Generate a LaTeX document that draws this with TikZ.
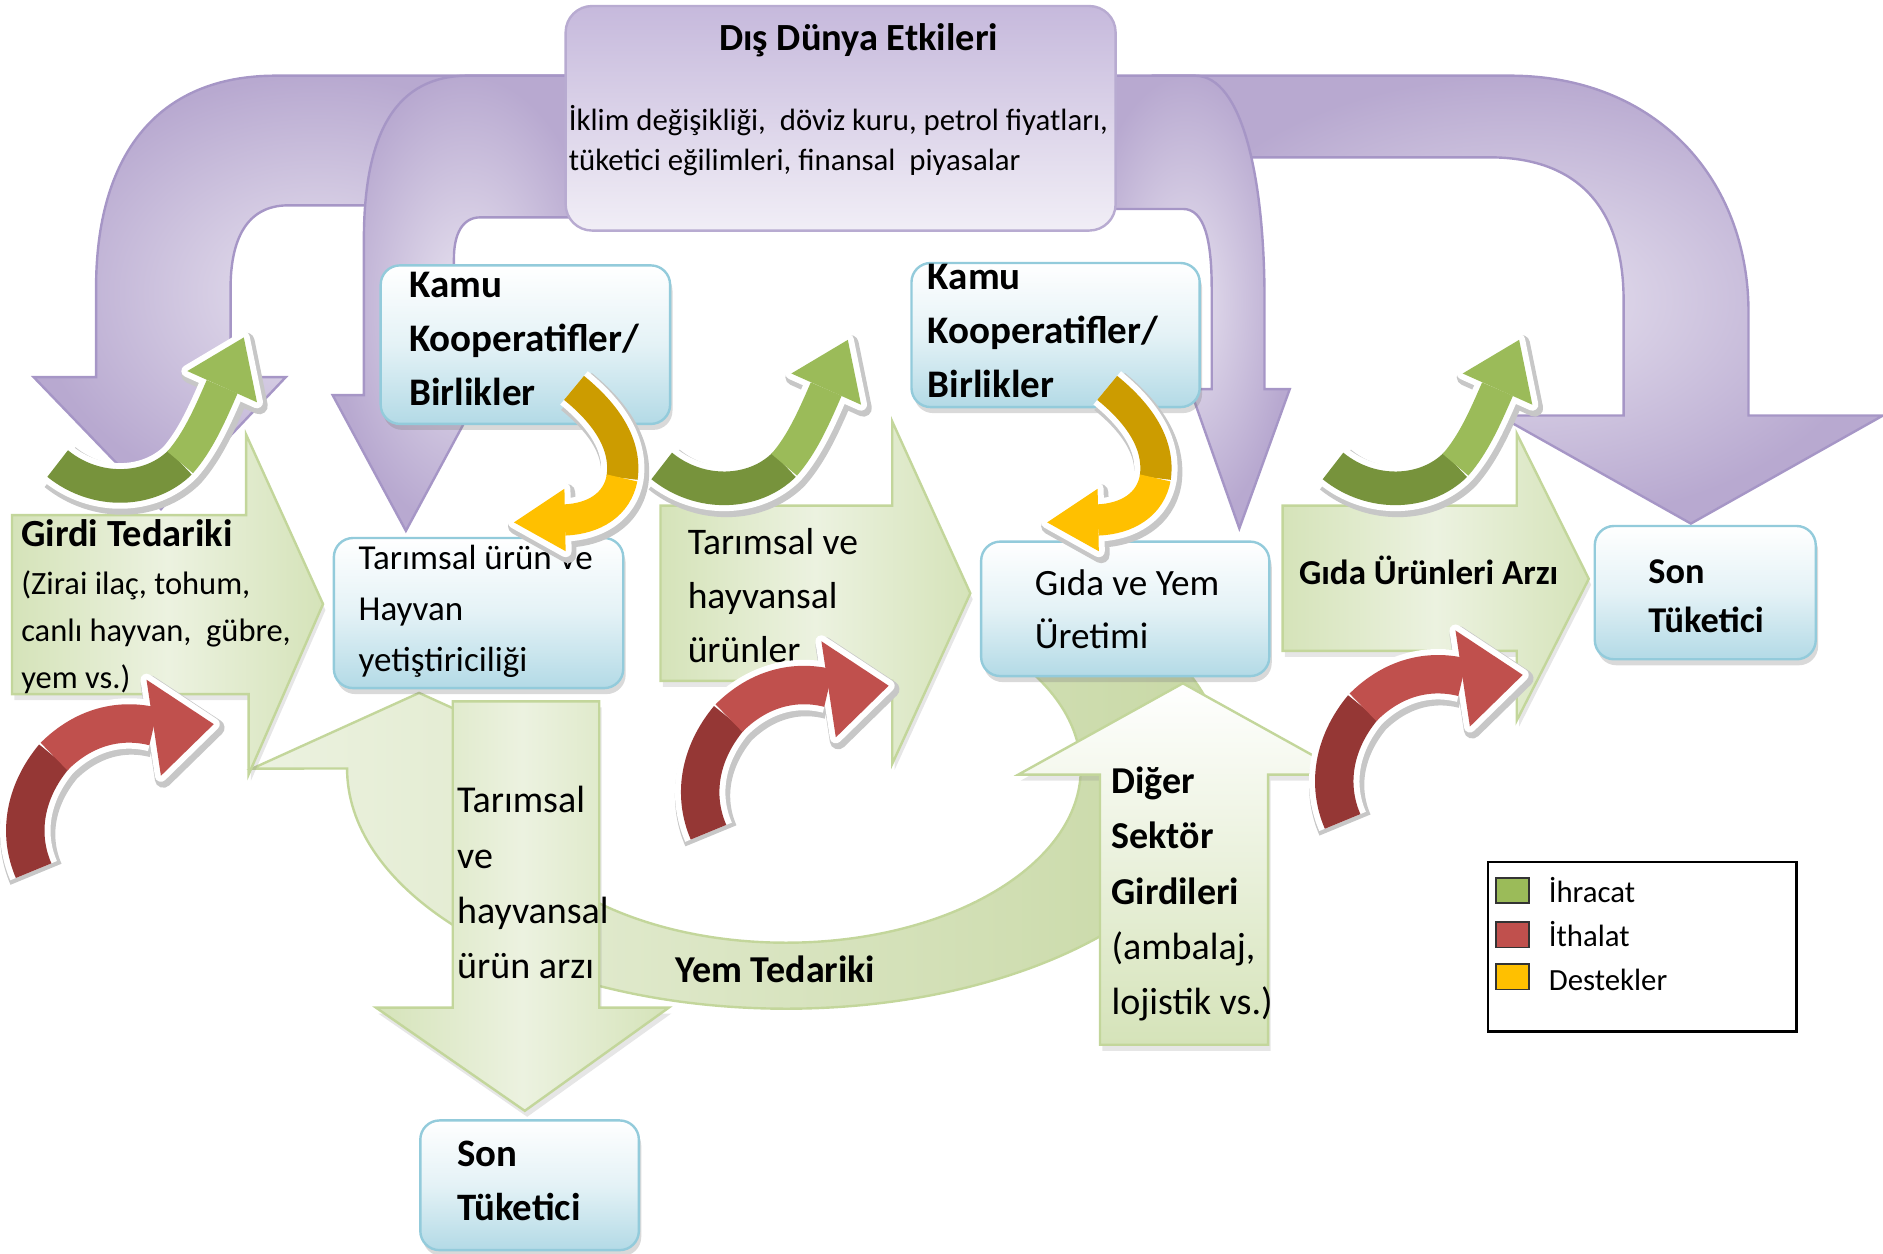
\documentclass[tikz,border=0pt]{standalone}
\usepackage{fontspec}
\setmainfont{Carlito}
\usetikzlibrary{shadows}
\hyphenpenalty=10000

\definecolor{lilaA}{HTML}{E8E3F0}
\definecolor{lilaB}{HTML}{B8A9D0}
\definecolor{lilaRim}{HTML}{A696C6}
\definecolor{worldTop}{HTML}{C6B9DC}
\definecolor{worldBot}{HTML}{F1EEF6}
\definecolor{unitMid}{HTML}{E4F2F6}
\definecolor{unitBot}{HTML}{B3DAE6}
\definecolor{unitRim}{HTML}{93CBDB}
\definecolor{leafA}{HTML}{ECF2E0}
\definecolor{leafB}{HTML}{D5E3B9}
\definecolor{leafC}{HTML}{C6D7A2}
\definecolor{leafRim}{HTML}{C3D69B}
\definecolor{exDark}{HTML}{77933C}
\definecolor{exLight}{HTML}{9BBB59}
\definecolor{imDark}{HTML}{953735}
\definecolor{imLight}{HTML}{C0504D}
\definecolor{supDark}{HTML}{CC9C00}
\definecolor{supLight}{HTML}{FFC000}

\tikzset{
  lilacarrow/.style={draw=lilaRim, line width=0.2mm, inner color=lilaA, outer color=lilaB},
  worldbox/.style={rectangle, rounded corners=2.2mm, draw=lilaRim!80, line width=0.2mm, top color=worldTop, bottom color=worldBot, anchor=north west, minimum width=45.8mm, minimum height=18.7mm},
  unitbox/.style={rectangle, rounded corners=1.6mm, draw=unitRim, line width=0.2mm, top color=white, bottom color=unitBot, middle color=unitMid, drop shadow={opacity=0.3, shadow xshift=0.2mm, shadow yshift=-0.5mm}, anchor=north west},
  leafarrow/.style={draw=leafRim, line width=0.2mm, left color=leafB, right color=leafB, middle color=leafA, drop shadow={opacity=0.2, shadow xshift=0.2mm, shadow yshift=-0.5mm}},
  uparrow/.style={draw=leafRim, line width=0.2mm, top color=white, bottom color=leafB, drop shadow={opacity=0.2, shadow xshift=0.2mm, shadow yshift=-0.5mm}},
  feedarc/.style={draw=leafRim, line width=0.2mm, left color=leafA, right color=leafC},
  linetext/.style={anchor=base west, inner sep=0pt, align=left},
  keybox/.style={draw=black!80, line width=0.15mm, minimum width=2.7mm, minimum height=2.1mm, inner sep=0pt},
  swshadow/.style={draw=black!22, line width=#1, line join=round, shift={(2,3)}},
  swrim/.style={draw=white, line width=#1, line join=round}
}

\begin{document}
\begin{tikzpicture}
[x=0.1mm, y=-0.1mm]
\useasboundingbox (0,0) rectangle (1568,1043.4);

\draw[lilacarrow] (960,63) -- (1257,63) .. controls (1380,63) and (1456,150) .. (1456,260) -- (1456,346) -- (1568,346) -- (1408,436) -- (1248,346) -- (1352,346) -- (1352,250) .. controls (1352,180) and (1320,131) .. (1240,131) -- (960,131) -- cycle;
\draw[lilacarrow] (900,63) -- (995,63) .. controls (1035,63) and (1053,150) .. (1053,250) -- (1053,324) -- (1074,324) -- (1032,440) -- (991,324) -- (1009,324) -- (1009,240) .. controls (1009,200) and (1003,174) .. (985,174) -- (900,174) -- cycle;
\draw[lilacarrow] (500,63) -- (230,63) .. controls (130,63) and (80,130) .. (80,240) -- (80,314) -- (28,314) -- (134,424) -- (238,314) -- (192,314) -- (192,240) .. controls (192,200) and (205,171) .. (240,171) -- (500,171) -- cycle;
\draw[lilacarrow] (500,63) -- (390,63) .. controls (330,63) and (303,110) .. (303,200) -- (303,329) -- (277,329) -- (338,442) -- (399,329) -- (378,329) -- (378,215) .. controls (378,195) and (385,181) .. (400,181) -- (500,181) -- cycle;

\node[worldbox] (world) at (470,4) {};
\node[anchor=base, inner sep=0pt, font=\fontsize{9.1}{11}\selectfont\bfseries] (worldtitle) at (715,42) {Dış Dünya Etkileri};
\node[linetext, font=\fontsize{7.3}{9.6}\selectfont] (worldtext) at (473,142) {İklim değişikliği,~ döviz kuru, petrol fiyatları,\\tüketici eğilimleri, finansal~ piyasalar};

\draw[feedarc] (934.5,511.4) arc[start angle=-40, end angle=180, x radius=365.5, y radius=200] -- (210,640) -- (349,577) -- (488,640) -- (409,640) arc[start angle=180, end angle=-40, x radius=245.5, y radius=145] -- cycle;

\draw[leafarrow] (10,429) -- (205,429) -- (205,362) -- (269,503) -- (207,645) -- (207,578) -- (10,578) -- cycle;
\draw[leafarrow] (550,421) -- (743,421) -- (743,351) -- (808,494) -- (743,636) -- (743,567) -- (550,567) -- cycle;
\draw[leafarrow] (1068,421) -- (1263,421) -- (1263,361) -- (1323,482) -- (1263,600) -- (1263,542) -- (1068,542) -- cycle;
\draw[leafarrow] (377,584) -- (499,584) -- (499,839) -- (557,839) -- (437,925) -- (313,839) -- (377,839) -- cycle;
\draw[uparrow] (916,870) -- (916,645) -- (848,645) -- (985,569) -- (1122,645) -- (1056,645) -- (1056,870) -- cycle;

\node[linetext, font=\fontsize{9.1}{11}\selectfont\bfseries] (girdi) at (17,455) {Girdi Tedariki};
\node[linetext, font=\fontsize{7.7}{11.1}\selectfont] (girdinote) at (17,573) {(Zirai ilaç, tohum,\\canlı hayvan,~ gübre,\\yem vs.)};
\node[linetext, font=\fontsize{8.9}{12.8}\selectfont] (urunler) at (572,552) {Tarımsal ve\\hayvansal\\ürünler};
\node[linetext, font=\fontsize{8.3}{11}\selectfont\bfseries] (arz) at (1081,487) {Gıda Ürünleri Arzı};
\node[linetext, font=\fontsize{9}{13.1}\selectfont] (urunarz) at (380,815) {Tarımsal\\ve\\hayvansal\\ürün arzı};
\node[linetext, font=\fontsize{9}{11}\selectfont\bfseries] (yem) at (562,818) {Yem Tedariki};
\node[linetext, font=\fontsize{9}{13.1}\selectfont] (diger) at (925,845) {\textbf{Diğer}\\\textbf{Sektör}\\\textbf{Girdileri}\\(ambalaj,\\lojistik vs.)};

\node[unitbox, minimum width=24.1mm, minimum height=13.2mm] (kamuA) at (316,220) {};
\node[linetext, font=\fontsize{9.25}{12.8}\selectfont\bfseries] (kamuAtext) at (340,338) {Kamu\\Kooperatifler/\\Birlikler};
\node[unitbox, minimum width=24mm, minimum height=12mm] (kamuB) at (758,218) {};
\node[linetext, font=\fontsize{9.25}{12.8}\selectfont\bfseries] (kamuBtext) at (772,331) {Kamu\\Kooperatifler/\\Birlikler};
\node[unitbox, minimum width=24.1mm, minimum height=12.5mm] (tarim) at (277,447) {};
\node[linetext, font=\fontsize{8.3}{12.1}\selectfont] (tarimtext) at (298,559) {Tarımsal ürün ve\\Hayvan\\yetiştiriciliği};
\node[unitbox, minimum width=24mm, minimum height=11.2mm] (gida) at (816,450) {};
\node[linetext, font=\fontsize{8.8}{12.5}\selectfont] (gidatext) at (861,540) {Gıda ve Yem\\Üretimi};
\node[unitbox, minimum width=18.4mm, minimum height=11.1mm] (sonA) at (1327,437) {};
\node[linetext, font=\fontsize{8.6}{11.7}\selectfont\bfseries] (sonAtext) at (1372,527) {Son\\Tüketici};
\node[unitbox, minimum width=18.2mm, minimum height=10.8mm] (sonB) at (349,932) {};
\node[linetext, font=\fontsize{9.2}{12.8}\selectfont\bfseries] (sonBtext) at (380,1016) {Son\\Tüketici};

\node[draw=black, line width=0.2mm, minimum width=25.7mm, minimum height=14.1mm, anchor=north west] (legend) at (1238,717) {};
\node[keybox, fill=exLight] (keyex) at (1259.5,741.5) {};
\node[keybox, fill=imLight] (keyim) at (1259.5,778.5) {};
\node[keybox, fill=supLight] (keysup) at (1259.5,813.5) {};
\node[linetext, font=\fontsize{7.3}{10.4}\selectfont] (keytext) at (1289,825) {İhracat\\İthalat\\Destekler};

\foreach \dx/\dy in {0/0, 503/2, 1062/2}
{
\begin{scope}[shift={(\dx,\dy)}]
\draw[swshadow=4.2mm] (48,386) .. controls (80,412) and (125,410) .. (150,385) .. controls (165,368) and (175,345) .. (185,322);
\filldraw[swshadow=1.4mm, fill=black!22] (156,309) -- (203,281) -- (214,335) -- cycle;
\draw[swrim=3.8mm] (48,386) .. controls (80,412) and (125,410) .. (150,385) .. controls (165,368) and (175,345) .. (185,322);
\filldraw[swrim=1mm, fill=white] (156,309) -- (203,281) -- (214,335) -- cycle;
\draw[exDark, line width=2.8mm] (48,386) .. controls (80,412) and (125,410) .. (150,385);
\draw[exLight, line width=2.8mm] (150,385) .. controls (165,368) and (175,345) .. (185,322);
\fill[exLight] (156,309) -- (203,281) -- (214,335) -- cycle;
\end{scope}
}

\foreach \dx/\dy in {0/0, 562/-32, 1090/-41}
{
\begin{scope}[shift={(\dx,\dy)}]
\draw[swshadow=4.6mm] (28,725) .. controls (15,695) and (20,660) .. (45,630) .. controls (70,605) and (100,598) .. (128,605);
\filldraw[swshadow=1.4mm, fill=black!22] (122,566) -- (178,603) -- (134,646) -- cycle;
\draw[swrim=4.2mm] (28,725) .. controls (15,695) and (20,660) .. (45,630) .. controls (70,605) and (100,598) .. (128,605);
\filldraw[swrim=1mm, fill=white] (122,566) -- (178,603) -- (134,646) -- cycle;
\draw[imDark, line width=3.2mm] (28,725) .. controls (15,695) and (20,660) .. (45,630);
\draw[imLight, line width=3.2mm] (45,630) .. controls (70,605) and (100,598) .. (128,605);
\fill[imLight] (122,566) -- (178,603) -- (134,646) -- cycle;
\end{scope}
}

\foreach \dx/\dy in {0/0, 444/0}
{
\begin{scope}[shift={(\dx,\dy)}]
\draw[swshadow=4mm] (478,323) .. controls (505,345) and (522,370) .. (518,398) .. controls (514,420) and (495,432) .. (470,433);
\filldraw[swshadow=1.4mm, fill=black!22] (470,407) -- (428,435) -- (471,459) -- cycle;
\draw[swrim=3.6mm] (478,323) .. controls (505,345) and (522,370) .. (518,398) .. controls (514,420) and (495,432) .. (470,433);
\filldraw[swrim=1mm, fill=white] (470,407) -- (428,435) -- (471,459) -- cycle;
\draw[supDark, line width=2.6mm] (478,323) .. controls (505,345) and (522,370) .. (518,398);
\draw[supLight, line width=2.6mm] (518,398) .. controls (514,420) and (495,432) .. (470,433);
\fill[supLight] (470,407) -- (428,435) -- (471,459) -- cycle;
\end{scope}
}
\end{tikzpicture}
\end{document}
